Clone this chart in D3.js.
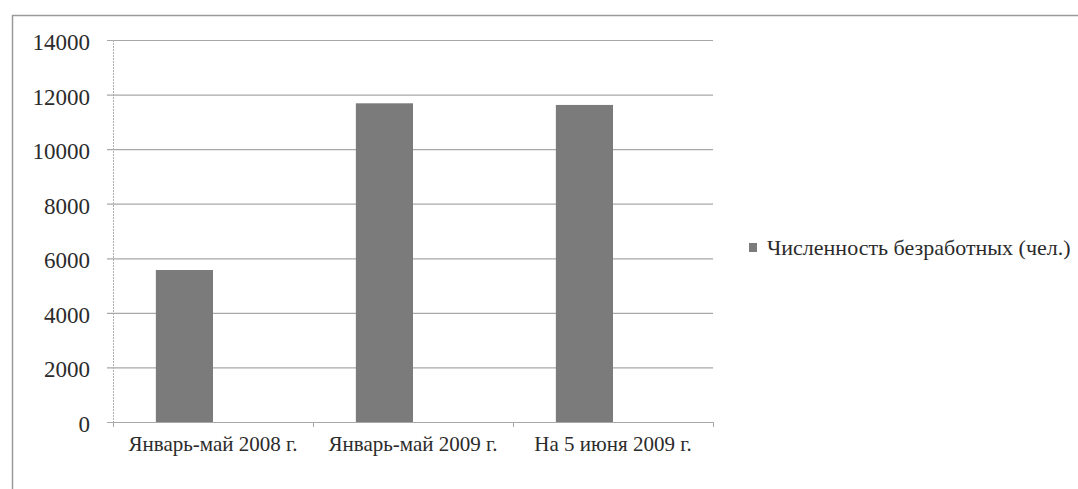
<!DOCTYPE html>
<html>
<head>
<meta charset="utf-8">
<script src="https://cdn.jsdelivr.net/npm/d3@7/dist/d3.min.js"></script>
<style>
  html, body { margin: 0; padding: 0; background: #fff; }
  svg { display: block; }
  .serif { font-family: 'Liberation Serif'; }
</style>
</head>
<body>
<svg id="unemp" width="1078" height="489"></svg>
<script>
// Unemployment figures by period
const categories = ["Январь-май 2008 г.", "Январь-май 2009 г.", "На 5 июня 2009 г."];
const seriesName = "Численность безработных (чел.)";
const unemployed = [5570, 11680, 11620];
const yTicks = [0, 2000, 4000, 6000, 8000, 10000, 12000, 14000];

const FONT = "'Liberation Serif'";
const INK = "#2b2b2b";
const BAR = "#7b7b7b";
const RULE = "#a8a8a8";

const svg = d3.select("#unemp");
const W = 1078, H = 489;

// Frame around the chart area
svg.append("path")
  .attr("d", `M12.5,${H} V15.5 H${W}`)
  .attr("fill", "none")
  .attr("stroke", "#9a9a9a")
  .attr("stroke-width", 1.5);

const plot = { left: 113, right: 713, top: 40, bottom: 422 };

const y = d3.scaleLinear().domain([0, 14000]).range([plot.bottom, plot.top]);
const x = d3.scaleBand().domain(categories).range([plot.left, plot.right]).padding(0);
// Each category holds two series slots; only the first one carries data
const slot = d3.scaleBand().domain([0, 1]).range([0, x.bandwidth()])
  .paddingInner(0).paddingOuter(0.75);

// Horizontal gridlines with left tick marks
const grid = svg.append("g")
  .attr("transform", `translate(${plot.left},0)`)
  .call(d3.axisLeft(y).tickValues(yTicks).tickSize(6).tickFormat(""));
grid.select(".domain").remove();
grid.selectAll(".tick line")
  .attr("x1", -6)
  .attr("x2", plot.right - plot.left)
  .attr("stroke", RULE)
  .attr("stroke-width", 1.2);

// Y tick labels
svg.append("g").selectAll("text")
  .data(yTicks)
  .join("text")
  .attr("class", "serif")
  .attr("x", 90)
  .attr("y", d => y(d) + 10)
  .attr("text-anchor", "end")
  .attr("font-size", 23)
  .attr("fill", INK)
  .style("font-family", FONT)
  .text(d => d);

// Bars
svg.append("g").selectAll("rect")
  .data(unemployed)
  .join("rect")
  .attr("x", (d, i) => x(categories[i]) + slot(0))
  .attr("y", d => y(d))
  .attr("width", slot.bandwidth())
  .attr("height", d => plot.bottom - y(d))
  .attr("fill", BAR);

// Vertical value axis line
svg.append("line")
  .attr("x1", plot.left + 0.5).attr("x2", plot.left + 0.5)
  .attr("y1", plot.top).attr("y2", plot.bottom + 5)
  .attr("stroke", "#b0b0b0")
  .attr("stroke-dasharray", "2,1");

// Category axis line and boundary ticks
svg.append("line")
  .attr("x1", plot.left - 6).attr("x2", plot.right)
  .attr("y1", plot.bottom + 0.5).attr("y2", plot.bottom + 0.5)
  .attr("stroke", RULE)
  .attr("stroke-width", 1.2);
svg.append("g").selectAll("line")
  .data(d3.range(categories.length + 1))
  .join("line")
  .attr("x1", i => plot.left + i * x.step() + 0.5)
  .attr("x2", i => plot.left + i * x.step() + 0.5)
  .attr("y1", plot.bottom).attr("y2", plot.bottom + 5)
  .attr("stroke", RULE);

// Category labels
svg.append("g").selectAll("text")
  .data(categories)
  .join("text")
  .attr("class", "serif")
  .attr("x", d => x(d) + x.bandwidth() / 2)
  .attr("y", plot.bottom + 29)
  .attr("text-anchor", "middle")
  .attr("font-size", 21)
  .attr("fill", INK)
  .style("font-family", FONT)
  .text(d => d);

// Legend
const legend = svg.append("g").attr("transform", "translate(749,243)");
legend.append("rect")
  .attr("width", 8).attr("height", 9)
  .attr("fill", BAR);
legend.append("text")
  .attr("class", "serif")
  .attr("x", 18).attr("y", 12)
  .attr("font-size", 22)
  .attr("fill", INK)
  .style("font-family", FONT)
  .text(seriesName);
</script>
</body>
</html>
